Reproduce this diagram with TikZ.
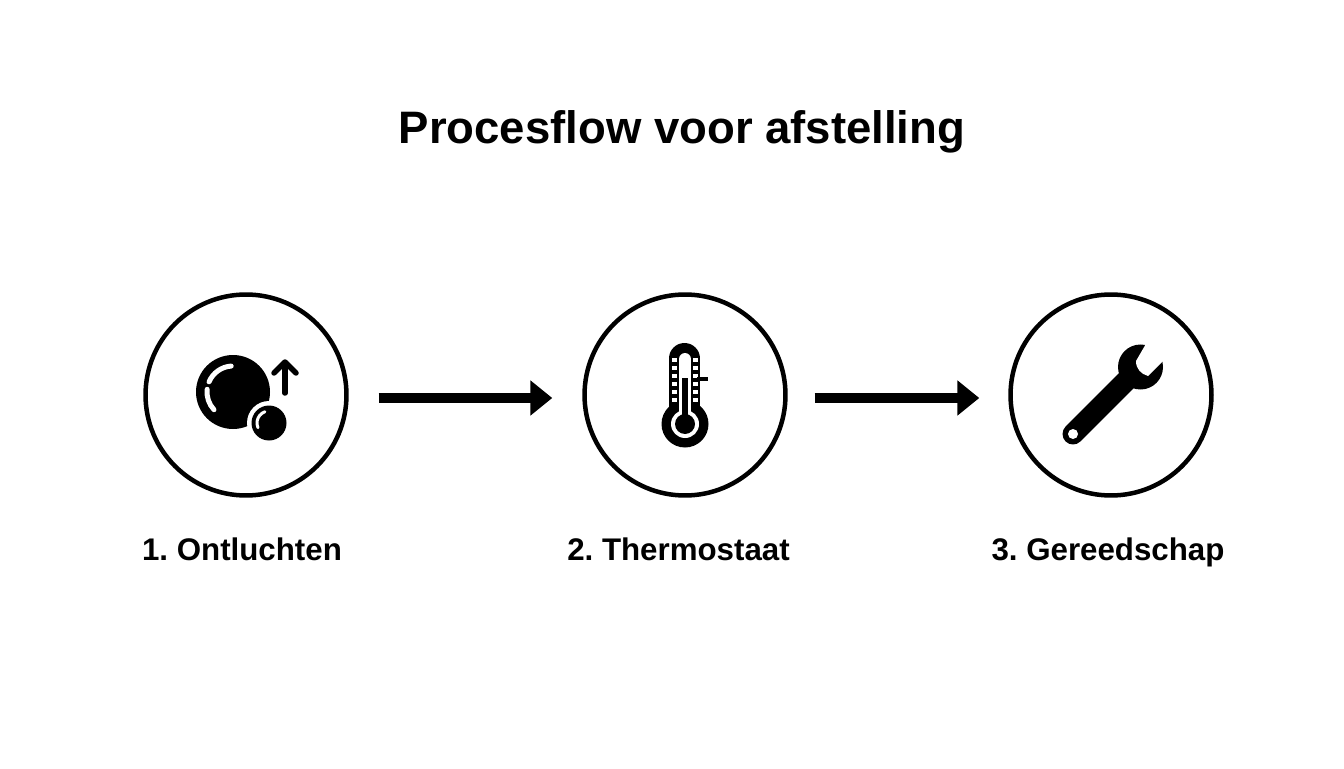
\documentclass[tikz,border=0pt]{standalone}
\usepackage{fontspec}
\setmainfont{Liberation Sans}
\usetikzlibrary{arrows.meta}
\frenchspacing

\tikzset{
    stepcircle/.style={circle,draw,line width=0.09cm,minimum size=4.02cm,inner sep=0pt},
    flowarrow/.style={-{Triangle[length=0.44cm,width=0.68cm]},line width=0.19cm},
    steplabel/.style={anchor=base,font=\bfseries\fontsize{17.8}{20}\selectfont},
    titlelabel/.style={anchor=base,font=\bfseries\fontsize{25.9}{29}\selectfont},
    iconstroke/.style={line cap=round,line join=round}
}

\begin{document}
\begin{tikzpicture}[x=0.02cm,y=0.02cm]

    \useasboundingbox (0,0) rectangle (1344,768);

    \node[titlelabel] (title) at (682,624) {Procesflow voor afstelling};

    \node[stepcircle] (bubble) at (246,373) {};
    \node[stepcircle] (thermo) at (685,373) {};
    \node[stepcircle] (wrench) at (1111,373) {};

    \node[steplabel] (lab1) at (242,208) {1. Ontluchten};
    \node[steplabel] (lab2) at (678.5,208) {2. Thermostaat};
    \node[steplabel] (lab3) at (1108,208) {3. Gereedschap};

    \draw[flowarrow,shorten <=0.6cm,shorten >=0.6cm] ([yshift=-0.06cm]bubble.east) -- ([yshift=-0.06cm]thermo.west);
    \draw[flowarrow,shorten <=0.54cm,shorten >=0.58cm] ([yshift=-0.06cm]thermo.east) -- ([yshift=-0.06cm]wrench.west);

    \fill (233,376) circle (37);
    \fill[white] (269,345) circle (22);
    \fill (269,345) circle (17.5);
    \draw[white,iconstroke,line width=0.1cm] (233,376) ++(94:26) arc[start angle=94,end angle=157,radius=26];
    \draw[white,iconstroke,line width=0.1cm] (233,376) ++(174:26) arc[start angle=174,end angle=223,radius=26];
    \draw[white,iconstroke,line width=0.06cm] (269,345) ++(110:12) arc[start angle=110,end angle=203,radius=12];
    \draw[iconstroke,line width=0.11cm] (285,375) -- (285,405);
    \draw[iconstroke,line width=0.11cm] (274,395) -- (285,406) -- (296,395);

    \draw[line width=0.62cm,line cap=round] (684.5,344) -- (684.5,409.5);
    \fill (685,344) circle (23.5);
    \draw[white,line width=0.24cm,line cap=round] (685,350) -- (685,409);
    \fill[white] (685,344) circle (14);
    \fill (685,344) circle (10);
    \fill (682,344) rectangle (687.6,390);
    \foreach \ty in {368,376,384,392,400,408} {
        \fill[white] (672,\ty-1.6) rectangle (677,\ty+1.6);
        \fill[white] (693,\ty-1.6) rectangle (698,\ty+1.6);
    }
    \fill (697,387) rectangle (708,391);

    \fill (1140.5,401) circle (22.5);
    \draw[line width=0.42cm,line cap=round] (1073,334) -- (1130,391);
    \fill[white] (1147,426) -- (1136,407) .. controls (1136,399) and (1141,394) .. (1148,392) -- (1163,407) -- (1170,430) -- cycle;
    \fill[white] (1073,334) circle (5);

\end{tikzpicture}
\end{document}
